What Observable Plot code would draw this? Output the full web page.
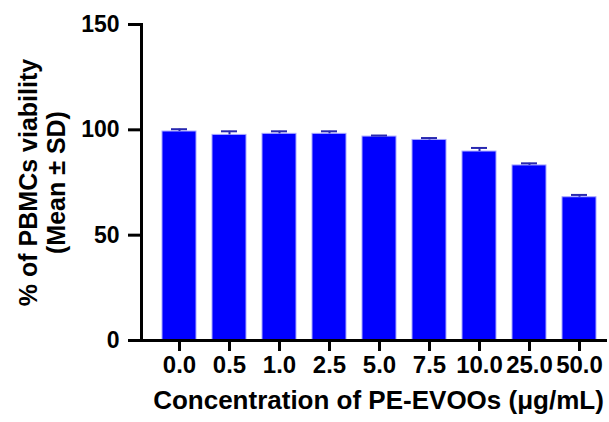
<!DOCTYPE html>
<html>
<head>
<meta charset="utf-8">
<script src="https://cdn.jsdelivr.net/npm/d3@7"></script>
<script src="https://cdn.jsdelivr.net/npm/@observablehq/plot@0.6"></script>
<style>
  html, body { margin: 0; padding: 0; background: #fff; }
  svg { font-family: "Liberation Sans", Arial, sans-serif; }
</style>
</head>
<body>
<div id="chart"></div>
<script>
const concentrations = ["0.0", "0.5", "1.0", "2.5", "5.0", "7.5", "10.0", "25.0", "50.0"];
const means = [99.2, 97.6, 98.1, 98.1, 96.8, 95.2, 89.7, 83.1, 68.0];
const sds = [1.1, 1.7, 1.2, 1.2, 0.5, 0.9, 1.7, 1.0, 1.1];
const yTicks = [0, 50, 100, 150];

const data = concentrations.map((c, i) => ({c, mean: means[i], top: means[i] + sds[i]}));

const chart = Plot.plot({
  width: 609,
  height: 422,
  marginLeft: 141,
  marginRight: 2,
  marginTop: 24,
  marginBottom: 82,
  style: {fontFamily: "Liberation Sans, Arial, sans-serif", background: "#fff"},
  x: {domain: concentrations, range: [158.3, 598.7], paddingInner: 0.33, paddingOuter: 0},
  y: {domain: [0, 150]},
  marks: [
    Plot.barY(data, {x: "c", y: "mean", fill: "#0000ff", stroke: "#a8a8ff", strokeWidth: 1}),
    Plot.ruleX(data, {x: "c", y1: "mean", y2: "top", stroke: "#2828b0", strokeWidth: 2}),
    Plot.tickY(data, {x: "c", y: "top", stroke: "#2828b0", strokeWidth: 2, insetLeft: 9, insetRight: 9}),
    Plot.frame({anchor: "left", stroke: "#000", strokeWidth: 3}),
    Plot.ruleY([0], {stroke: "#000", strokeWidth: 3}),
    Plot.axisY({ticks: yTicks, tickSize: 13, strokeWidth: 3, tickFormat: () => "", label: null}),
    Plot.axisX({tickSize: 11, strokeWidth: 3, tickFormat: () => "", label: null}),
    Plot.text(yTicks, {y: d => d, frameAnchor: "left", dx: -22, textAnchor: "end", fontSize: 23, fontWeight: "bold", fill: "#000"}),
    Plot.text(concentrations, {x: d => d, frameAnchor: "bottom", dy: 32, fontSize: 24, fontWeight: "bold", fill: "#000"}),
    Plot.text(["% of PBMCs viability\n(Mean ± SD)"], {frameAnchor: "left", dx: -99, textAnchor: "middle", rotate: -90, fontSize: 25, fontWeight: "bold", lineHeight: 1.12, fill: "#000"}),
    Plot.text(["Concentration of PE-EVOOs (μg/mL)"], {frameAnchor: "bottom", dy: 68, dx: 4, fontSize: 26, fontWeight: "bold", fill: "#000"})
  ]
});
document.getElementById("chart").appendChild(chart);
</script>
</body>
</html>
